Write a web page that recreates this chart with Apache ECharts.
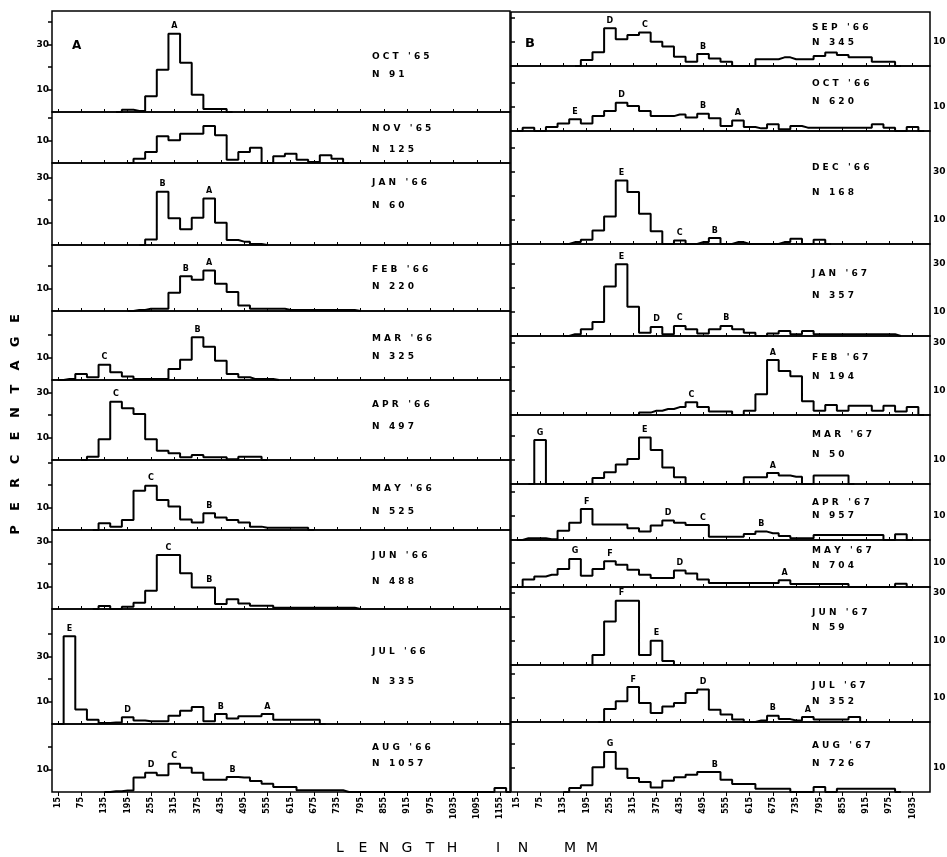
<!DOCTYPE html>
<html>
<head>
<meta charset="utf-8">
<script src="https://cdn.jsdelivr.net/npm/echarts@6/dist/echarts.min.js"></script>
<style>
  html, body { margin: 0; background: #fff; }
  #chart { width: 947px; height: 857px; }
</style>
</head>
<body>
<div id="chart"></div>
<script>
// percentages per 30 mm length class; class k has midpoint 15 + 30*k mm
// column A (left)
const oct65 = [1, 0.5, 7, 18.8, 34.8, 21.9, 7.7, 1.3, 1.3];
const nov65 = [1.9, 4.9, 11.9, 10.1, 13, 13, 16.4, 12.3, 1.5, 4.9, 6.8, 0, 3, 4.1, 1.5, 0.4, 3.4, 1.9];
const jan66 = [2.5, 23.7, 11.9, 7, 12.1, 20.7, 9.9, 2.2, 1.5, 0.4];
const feb66 = [0.5, 1, 1, 8.1, 15.5, 13.9, 18, 12.1, 8.4, 2.5, 1, 1, 1, 0.5, 0.5, 0.5, 0.5, 0.5, 0.5];
const mar66 = [0.4, 2.7, 1.2, 6.8, 3.4, 1.6, 0.4, 0.4, 0.4, 4.9, 9, 19, 14.8, 8.6, 2.7, 1.2, 0.4, 0.4];
const apr66 = [1.5, 9.2, 25.9, 23, 20.4, 9.2, 4.1, 3, 1.2, 2.2, 1.2, 1.2, 0.3, 1.5, 1.5];
const may66 = [3, 1.5, 4.4, 17.5, 19.7, 13.3, 10.4, 4.7, 3.3, 7.4, 5.6, 4.4, 3.3, 1.5, 1, 1, 1, 1];
const jun66 = [1.3, 0, 1, 2.8, 8.1, 24, 24, 15.9, 9.6, 9.6, 2.2, 4.3, 2.5, 1.5, 1.5, 0.6, 0.6, 0.6, 0.6, 0.6, 0.6, 0.6];
const jul66 = [39, 6.4, 1.9, 0.4, 0.7, 3, 1.6, 1.2, 1.2, 3.7, 5.9, 7.6, 1.2, 4.4, 2.4, 3.4, 3.4, 4.4, 1.9, 1.9, 1.9, 1.9];
const aug66 = [0.3, 0.7, 6.4, 8.6, 7.4, 12.6, 10.8, 8.6, 5.5, 5.5, 6.7, 6.4, 4.9, 3.7, 2.2, 2.2, 0.8, 0.8, 0.8, 0.8, 0, 0, 0, 0, 0, 0, 0, 0, 0, 0, 0, 0, 0, 1.8];
// column B (right)
const sep66 = [2.5, 5.7, 15.7, 11.1, 12.9, 14, 10.1, 8.1, 3.9, 1.8, 5, 3.1, 1.8, 0, 0, 2.8, 2.8, 3.6, 2.8, 2.8, 4.2, 5.6, 4.6, 3.6, 3.6, 1.8, 1.8];
const oct66 = [1.4, 0, 1.7, 3.1, 4.9, 3.1, 6.2, 8.3, 11.8, 10.4, 8.3, 6.2, 6.2, 6.9, 5.6, 7.2, 5.3, 2.1, 4.4, 1.7, 1.1, 2.8, 0.7, 2.1, 1.4, 1.4, 1.4, 1.4, 1.4, 1.4, 2.8, 1.4, 0, 1.7];
const dec66 = [0.8, 1.8, 5.6, 11.5, 26.5, 21.7, 12.6, 5.3, 0, 1.5, 0, 0.8, 2.5, 0, 0.8, 0, 0, 0, 0.8, 2.2, 0, 1.8];
const jan67 = [0.7, 2.8, 5.8, 20.6, 29.9, 12.2, 1.4, 3.8, 0.7, 4.2, 2.8, 1, 2.8, 4.2, 2.8, 1.4, 0, 1, 2.1, 0.7, 2.1, 0.7, 0.7, 0.7, 0.7, 0.7, 0.7, 0.7];
const feb67 = [1, 1.8, 2.5, 3.3, 5.3, 3.3, 1.5, 1.5, 0, 1.8, 8.6, 22.9, 18.3, 16.1, 5.7, 1.8, 4.2, 1.8, 3.9, 3.9, 1.8, 3.9, 1.5, 3.3];
const mar67 = [18.3, 0, 0, 0, 0, 2.5, 4.9, 8.1, 10.4, 19.4, 14.2, 6.9, 2.8, 0, 0, 0, 0, 0, 2.8, 2.8, 4.6, 3.5, 3, 0, 3.5, 3.5, 3.5];
const apr67 = [0.7, 0.7, 0.3, 3.9, 7.2, 12.9, 6.5, 6.5, 6.5, 4.9, 3.5, 6, 8.1, 7.2, 6.2, 6.2, 1.4, 1.4, 1.4, 2.5, 3.5, 2.8, 1.7, 0.7, 0.7, 2.1, 2.1, 2.1, 2.1, 2.1, 2.1, 0, 2.4];
const may67 = [3.1, 4.4, 5.1, 7.5, 11.7, 4.7, 7.5, 10.7, 9.3, 7.2, 5.1, 3.8, 3.8, 6.9, 5.6, 3.1, 1.7, 1.7, 1.7, 1.7, 1.7, 1.7, 2.8, 1.2, 1.2, 1.2, 1.2, 1.2, 0, 0, 0, 0, 1.4];
const jun67 = [4.2, 18.1, 26.8, 26.8, 4.2, 10.1, 1.7];
const jul67 = [5.4, 8.6, 14.6, 7.9, 3.75, 6.5, 7.9, 12.1, 13.5, 5.1, 3.1, 1, 0, 0.6, 2.6, 1.2, 0.6, 2.1, 1, 1, 1, 2.1];
const aug67 = [1.7, 2.8, 10.3, 16.7, 9.7, 5.8, 4.2, 1.9, 4.7, 6.1, 7.2, 8.3, 8.3, 5.1, 3.3, 3.3, 1.4, 1.4, 1.4, 0, 0, 2.1, 0, 1.4, 1.4, 1.4, 1.4, 1.4];

// first length class of each series
const leftStart = [6, 7, 8, 7, 1, 3, 4, 4, 1, 5];
const rightStart = [6, 1, 5, 5, 11, 2, 1, 1, 7, 8, 5];

const leftMonth = ["OCT '65", "NOV '65", "JAN '66", "FEB '66", "MAR '66", "APR '66", "MAY '66", "JUN '66", "JUL '66", "AUG '66"];
const leftN = ["91", "125", "60", "220", "325", "497", "525", "488", "335", "1057"];
const rightMonth = ["SEP '66", "OCT '66", "DEC '66", "JAN '67", "FEB '67", "MAR '67", "APR '67", "MAY '67", "JUN '67", "JUL '67", "AUG '67"];
const rightN = ["345", "620", "168", "357", "194", "50", "957", "704", "59", "352", "726"];

// cohort letters: [length class, letter]
const leftPeaks = [
  [[10, 'A']],
  [],
  [[9, 'B'], [13, 'A']],
  [[11, 'B'], [13, 'A']],
  [[4, 'C'], [12, 'B']],
  [[5, 'C']],
  [[8, 'C'], [13, 'B']],
  [[9.5, 'C'], [13, 'B']],
  [[1, 'E'], [6, 'D'], [14, 'B'], [18, 'A']],
  [[8, 'D'], [10, 'C'], [15, 'B']]
];
const rightPeaks = [
  [[8, 'D'], [11, 'C'], [16, 'B']],
  [[5, 'E'], [9, 'D'], [16, 'B'], [19, 'A']],
  [[9, 'E'], [14, 'C'], [17, 'B']],
  [[9, 'E'], [12, 'D'], [14, 'C'], [18, 'B']],
  [[15, 'C'], [22, 'A']],
  [[2, 'G'], [11, 'E'], [22, 'A']],
  [[6, 'F'], [13, 'D'], [16, 'C'], [21, 'B']],
  [[5, 'G'], [8, 'F'], [14, 'D'], [23, 'A']],
  [[9, 'F'], [12, 'E']],
  [[10, 'F'], [16, 'D'], [22, 'B'], [25, 'A']],
  [[8, 'G'], [17, 'B']]
];

const leftTicks = [15, 75, 135, 195, 255, 315, 375, 435, 495, 555, 615, 675, 735, 795, 855, 915, 975, 1035, 1095, 1155];
const rightTicks = [15, 75, 135, 195, 255, 315, 375, 435, 495, 555, 615, 675, 735, 795, 855, 915, 975, 1035];
const yTicks = [10, 20, 30, 40];
const yLabels = [10, 30];

// layout
const columns = [
  {
    values: [oct65, nov65, jan66, feb66, mar66, apr66, may66, jun66, jul66, aug66],
    start: leftStart, months: leftMonth, ns: leftN, peaks: leftPeaks, ticks: leftTicks,
    edges: [11, 112, 163, 245, 311, 380, 460, 530, 609, 724, 792],
    labelY: [[57, 75], [129, 150], [183, 206], [270, 287], [339, 357], [405, 427], [489, 512], [556, 582], [652, 682], [748, 764]],
    left: 52, width: 458, xMax: 1180, pxPerPct: 2.25, yPos: 'left', textX: 372
  },
  {
    values: [sep66, oct66, dec66, jan67, feb67, mar67, apr67, may67, jun67, jul67, aug67],
    start: rightStart, months: rightMonth, ns: rightN, peaks: rightPeaks, ticks: rightTicks,
    edges: [12, 66, 131, 244, 336, 415, 484, 540, 587, 665, 722, 792],
    labelY: [[28, 43], [84, 102], [168, 193], [274, 296], [358, 377], [435, 455], [503, 516], [551, 566], [613, 628], [686, 702], [746, 764]],
    left: 511, width: 419, xMax: 1080, pxPerPct: 2.4, yPos: 'right', textX: 812
  }
];

const FONT = "'DejaVu Sans', sans-serif";
const spaced = s => s.split('').join(' ');

const grids = [], xAxes = [], yAxes = [], series = [], graphics = [];

columns.forEach(col => {
  const n = col.values.length;
  for (let i = 0; i < n; i++) {
    const top = col.edges[i];
    const h = col.edges[i + 1] - top;
    const yMax = h / col.pxPerPct;
    const isBottom = i === n - 1;
    const gi = grids.length;
    const vals = col.values[i];
    const s0 = col.start[i];

    grids.push({
      left: col.left, top: top, width: col.width, height: h,
      show: true, borderColor: '#000', borderWidth: 1.5,
      outerBoundsMode: 'none'
    });

    xAxes.push({
      gridIndex: gi, type: 'value', min: 0, max: col.xMax,
      axisLine: { show: false },
      splitLine: { show: false },
      axisTick: {
        show: true, customValues: col.ticks, inside: !isBottom, length: isBottom ? 4 : 3,
        lineStyle: { color: '#000', width: 1 }
      },
      axisLabel: {
        show: isBottom, customValues: col.ticks, rotate: 90, margin: 5,
        formatter: v => String(v),
        fontSize: 8, fontWeight: 'bold', fontFamily: FONT, color: '#000'
      }
    });

    yAxes.push({
      gridIndex: gi, type: 'value', min: 0, max: yMax, position: col.yPos,
      axisLine: { show: false },
      splitLine: { show: false },
      axisTick: {
        show: true, customValues: yTicks.filter(v => v < yMax - 1), length: 4,
        lineStyle: { color: '#000', width: 1.5 }
      },
      axisLabel: {
        customValues: yLabels.filter(v => v <= yMax - 2), margin: 3,
        fontSize: 9, fontWeight: 'bold', fontFamily: FONT, color: '#000'
      }
    });

    const pts = [[15 + 30 * (s0 - 1), 0]];
    vals.forEach((v, j) => pts.push([15 + 30 * (s0 + j), v]));
    pts.push([15 + 30 * (s0 + vals.length), 0]);

    series.push({
      type: 'line', xAxisIndex: gi, yAxisIndex: gi,
      step: 'middle', symbol: 'none', silent: true,
      lineStyle: { color: '#000', width: 2 },
      data: pts,
      markPoint: {
        symbol: 'rect', symbolSize: 1, silent: true,
        itemStyle: { color: 'rgba(0,0,0,0)' },
        label: {
          show: true, position: 'top', distance: 3,
          formatter: p => p.name,
          fontSize: 8, fontWeight: 'bold', fontFamily: FONT, color: '#000'
        },
        data: col.peaks[i].map(([b, ch]) => ({
          name: ch,
          coord: [15 + 30 * b, vals[Math.floor(b) - s0]]
        }))
      }
    });

    graphics.push({
      type: 'text', x: col.textX, y: col.labelY[i][0],
      style: { text: spaced(col.months[i]), font: 'bold 9px ' + FONT, fill: '#000', textVerticalAlign: 'middle' }
    });
    graphics.push({
      type: 'text', x: col.textX, y: col.labelY[i][1],
      style: { text: 'N   ' + spaced(col.ns[i]), font: 'bold 9px ' + FONT, fill: '#000', textVerticalAlign: 'middle' }
    });
  }
});

// panel letters
graphics.push({ type: 'text', x: 72, y: 46, style: { text: 'A', font: 'bold 12px ' + FONT, fill: '#000', textVerticalAlign: 'middle' } });
graphics.push({ type: 'text', x: 525, y: 44, style: { text: 'B', font: 'bold 13px ' + FONT, fill: '#000', textVerticalAlign: 'middle' } });

// axis titles, one letter at a time
const yTitle = 'PERCENTAGE';
yTitle.split('').forEach((ch, k) => {
  graphics.push({
    type: 'text', x: 16, y: 530 - k * 23.5, rotation: Math.PI / 2,
    style: { text: ch, font: 'bold 13px ' + FONT, fill: '#000', textAlign: 'center', textVerticalAlign: 'middle' }
  });
});
const xTitle = 'LENGTHINMM';
const xTitleX = [340, 363, 384, 407, 430, 452, 498, 523, 570, 592];
xTitle.split('').forEach((ch, k) => {
  graphics.push({
    type: 'text', x: xTitleX[k], y: 848,
    style: { text: ch, font: '14px ' + FONT, fill: '#000', textAlign: 'center', textVerticalAlign: 'middle' }
  });
});

const chart = echarts.init(document.getElementById('chart'));
chart.setOption({
  animation: false,
  backgroundColor: '#fff',
  grid: grids,
  xAxis: xAxes,
  yAxis: yAxes,
  series: series,
  graphic: graphics
});
</script>
</body>
</html>
